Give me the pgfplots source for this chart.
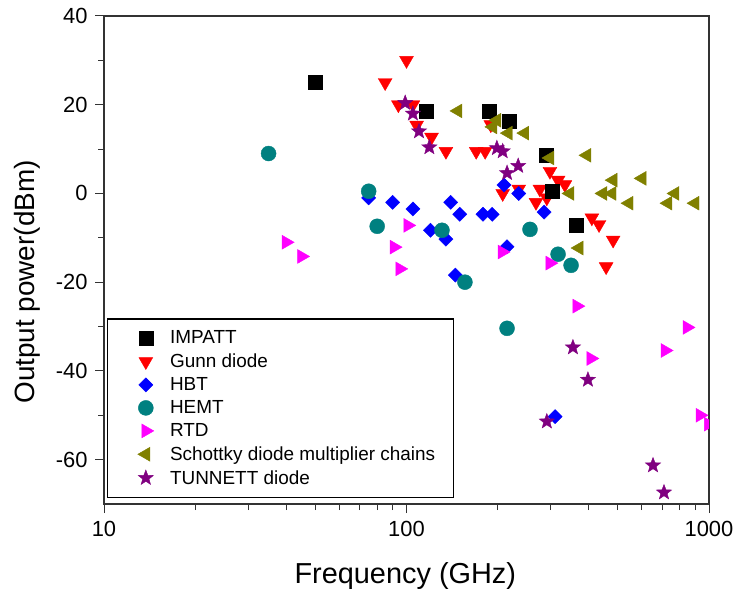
\documentclass[border=0pt]{standalone}
\usepackage{pgfplots}
\pgfplotsset{compat=1.18}
\usepackage{fontspec}
\setmainfont{Liberation Sans}

% filled five-point star
\pgfdeclareplotmark{fstar}{%
  \pgfpathmoveto{\pgfpointpolar{90}{\pgfplotmarksize}}%
  \pgfpathlineto{\pgfpointpolar{126}{0.42\pgfplotmarksize}}%
  \pgfpathlineto{\pgfpointpolar{162}{\pgfplotmarksize}}%
  \pgfpathlineto{\pgfpointpolar{198}{0.42\pgfplotmarksize}}%
  \pgfpathlineto{\pgfpointpolar{234}{\pgfplotmarksize}}%
  \pgfpathlineto{\pgfpointpolar{270}{0.42\pgfplotmarksize}}%
  \pgfpathlineto{\pgfpointpolar{306}{\pgfplotmarksize}}%
  \pgfpathlineto{\pgfpointpolar{342}{0.42\pgfplotmarksize}}%
  \pgfpathlineto{\pgfpointpolar{18}{\pgfplotmarksize}}%
  \pgfpathlineto{\pgfpointpolar{54}{0.42\pgfplotmarksize}}%
  \pgfpathclose
  \pgfusepathqfillstroke}

\definecolor{hemt}{RGB}{0,128,128}
\definecolor{schottky}{RGB}{128,128,0}
\definecolor{tunnett}{RGB}{128,0,128}
\definecolor{rtdcol}{RGB}{255,0,255}
\definecolor{gunncol}{RGB}{255,0,0}
\definecolor{hbtcol}{RGB}{0,0,255}

\pgfplotsset{
  impatt/.style={only marks, mark=square*, mark size=7bp, black, line width=0.4bp},
  gunn/.style={only marks, mark=triangle*, mark size=8bp, mark options={rotate=180}, gunncol, line width=0.4bp},
  hbt/.style={only marks, mark=square*, mark size=5bp, mark options={rotate=45}, hbtcol, line width=0.4bp},
  hemtm/.style={only marks, mark=*, mark size=7.5bp, hemt, line width=0.4bp},
  rtd/.style={only marks, mark=triangle*, mark size=8bp, mark options={rotate=-90}, rtdcol, line width=0.4bp},
  schot/.style={only marks, mark=triangle*, mark size=8bp, mark options={rotate=90}, schottky, line width=0.4bp},
  tunn/.style={only marks, mark=fstar, mark size=8bp, tunnett, line width=0.4bp},
  % legend image: one mark, with room left and right of it
  limg/.style={legend image code/.code={%
      \draw[##1] plot coordinates {(0bp,0bp)};
      \path (-22bp,0bp) (22bp,0bp);}},
}

\begin{document}
\begin{tikzpicture}
\begin{axis}[
    xmode=log,
    scale only axis,
    width=605bp, height=488bp,
    xmin=10, xmax=1000,
    ymin=-70, ymax=40,
    xtick={10,100,1000},
    xticklabels={10,100,1000},
    minor xtick={20,30,40,50,60,70,80,90,200,300,400,500,600,700,800,900},
    ytick={-60,-40,-20,0,20,40},
    minor y tick num=1,
    tick pos=left,
    tick align=outside,
    major tick length=9bp,
    minor tick length=6bp,
    axis line style={black!80, line width=1.1bp},
    tick style={black!80, line width=1bp},
    ticklabel style={font=\fontsize{22}{26}\selectfont},
    /pgf/number format/assume math mode=true,
    xticklabel style={yshift=-5bp},
    yticklabel style={xshift=-4bp},
    xlabel={Frequency (GHz)},
    ylabel={Output power(dBm)},
    xlabel style={font=\fontsize{29}{34}\selectfont, at={(axis description cs:0.498,-0.148)}, anchor=center},
    ylabel style={font=\fontsize{28}{33}\selectfont, at={(axis description cs:-0.126,0.455)}, anchor=center},
    clip marker paths=true,
    legend style={at={(axis description cs:0.005,0.012)}, anchor=south west,
        draw=black, line width=1.2bp,
        font=\fontsize{19}{23}\selectfont,
        inner xsep=16bp, inner ysep=10bp, row sep=4.5bp},
    legend cell align=left,
]

% drawing order as in the source figure
\addplot[gunn, forget plot] coordinates {
 (100,30) (85,25) (94,20) (105,20) (108,15.4) (121,12.7) (135,9.5)
 (170,9.5) (182,9.5) (190,15.5) (208,0) (235,1) (298,5) (317,3) (334,2)
 (276,1) (268,-2) (291,-1) (410,-5.5) (433,-7) (482,-10.5) (457,-16.5)
};
\addplot[hbt, forget plot] coordinates {
 (75,-1) (90,-2) (105,-3.5) (120,-8.3) (135,-10.3) (140,-2) (150,-4.7)
 (179,-4.7) (192,-4.7) (145,-18.4) (210,1.9) (235,0) (285,-4.2)
 (215,-12) (310,-50.3)
};
\addplot[hemtm, forget plot] coordinates {
 (35,9) (75,0.5) (80,-7.4) (131,-8.3) (156,-20) (256,-8.1) (317,-13.7)
 (350,-16.2) (215,-30.4)
};
\addplot[rtd, forget plot] coordinates {
 (40,-11) (45,-14.2) (101,-7.2) (91,-12.1) (95,-17) (207,-13.2)
 (298,-15.7) (366,-25.4) (407,-37.2) (716,-35.4) (846,-30.2) (934,-50)
 (995,-52)
};
\addplot[impatt, forget plot] coordinates {
 (50,25) (116,18.6) (187,18.6) (218,16.3) (289,8.6) (303,0.5) (363,-7.2)
};
\addplot[schot, forget plot] coordinates {
 (148,18.6) (199,16.5) (193,15) (217,13.6) (246,13.6) (298,8) (395,8.6)
 (347,0) (446,0) (478,0) (482,3) (601,3.4) (544,-2.2) (772,0) (732,-2.2)
 (899,-2.2) (372,-12.3)
};
\addplot[tunn, forget plot] coordinates {
 (99,20.4) (105,18) (110,14) (119,10.4) (199,10.2) (208,9.5) (215,4.6)
 (234,6.2) (355,-34.7) (398,-42) (291,-51.4) (653,-61.3) (710,-67.4)
};

\addlegendimage{impatt,limg}\addlegendentry{IMPATT}
\addlegendimage{gunn,limg}\addlegendentry{Gunn diode}
\addlegendimage{hbt,limg}\addlegendentry{HBT}
\addlegendimage{hemtm,limg}\addlegendentry{HEMT}
\addlegendimage{rtd,limg}\addlegendentry{RTD}
\addlegendimage{schot,limg}\addlegendentry{Schottky diode multiplier chains}
\addlegendimage{tunn,limg}\addlegendentry{TUNNETT diode}
\end{axis}
\pgfresetboundingbox
\path[use as bounding box] (-104bp,-92bp) rectangle (637bp,504bp);
\end{tikzpicture}
\end{document}
